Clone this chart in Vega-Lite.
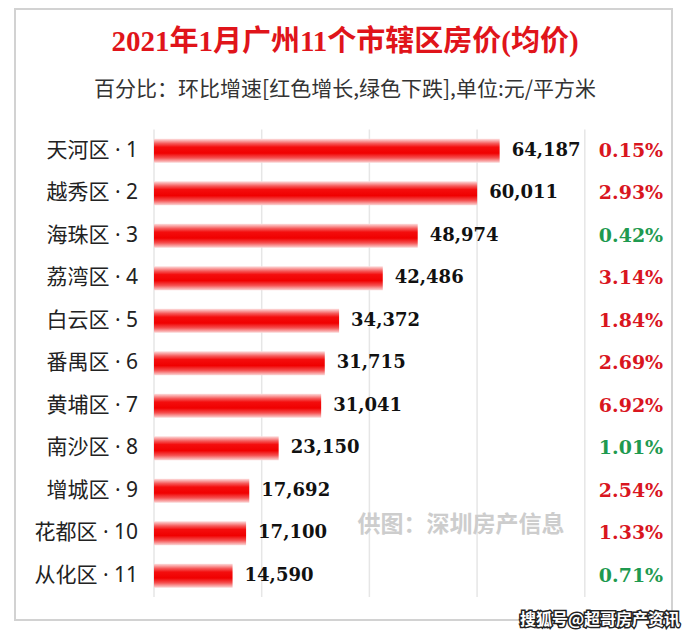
{
  "$schema": "https://vega.github.io/schema/vega-lite/v6.json",
  "width": 657,
  "height": 611,
  "autosize": {"type": "none"},
  "padding": {"left": 15, "top": 9, "right": 19, "bottom": 15},
  "background": "white",
  "config": {"view": {"stroke": "#d2d2d2", "strokeWidth": 2}},
  "datasets": {
    "districts": [
      {"rank": 1, "label": "天河区 · 1", "price": 64187, "pct": "0.15%", "dir": "up"},
      {"rank": 2, "label": "越秀区 · 2", "price": 60011, "pct": "2.93%", "dir": "up"},
      {"rank": 3, "label": "海珠区 · 3", "price": 48974, "pct": "0.42%", "dir": "down"},
      {"rank": 4, "label": "荔湾区 · 4", "price": 42486, "pct": "3.14%", "dir": "up"},
      {"rank": 5, "label": "白云区 · 5", "price": 34372, "pct": "1.84%", "dir": "up"},
      {"rank": 6, "label": "番禺区 · 6", "price": 31715, "pct": "2.69%", "dir": "up"},
      {"rank": 7, "label": "黄埔区 · 7", "price": 31041, "pct": "6.92%", "dir": "up"},
      {"rank": 8, "label": "南沙区 · 8", "price": 23150, "pct": "1.01%", "dir": "down"},
      {"rank": 9, "label": "增城区 · 9", "price": 17692, "pct": "2.54%", "dir": "up"},
      {"rank": 10, "label": "花都区 · 10", "price": 17100, "pct": "1.33%", "dir": "up"},
      {"rank": 11, "label": "从化区 · 11", "price": 14590, "pct": "0.71%", "dir": "down"}
    ],
    "grid": [{"g": 0}, {"g": 20000}, {"g": 40000}, {"g": 60000}, {"g": 80000}],
    "title": [{"t": "2021年1月广州11个市辖区房价(均价)"}],
    "subtitle": [{"t": "百分比：环比增速[红色增长,绿色下跌],单位:元/平方米"}],
    "watermark": [{"t": "供图：深圳房产信息"}],
    "source": [{"t": "搜狐号@超哥房产资讯"}]
  },
  "layer": [
    {
      "data": {"name": "grid"},
      "mark": {"type": "rule", "color": "#e6e6e6", "strokeWidth": 1.5},
      "encoding": {
        "x": {"field": "g", "type": "quantitative", "axis": null,
              "scale": {"domain": [-25812, 96194], "nice": false, "zero": false}},
        "y": {"datum": 0.5, "type": "quantitative", "axis": null,
              "scale": {"domain": [-2.2176, 11.926], "nice": false, "zero": false, "reverse": true}},
        "y2": {"datum": 11.5}
      }
    },
    {
      "data": {"name": "districts"},
      "mark": {
        "type": "bar", "orient": "horizontal", "size": 24,
        "color": {
          "gradient": "linear", "x1": 0, "y1": 0, "x2": 0, "y2": 1,
          "stops": [
            {"offset": 0, "color": "#fde2e2"},
            {"offset": 0.2, "color": "#f55a5a"},
            {"offset": 0.35, "color": "#f40d0d"},
            {"offset": 0.6, "color": "#f00000"},
            {"offset": 0.8, "color": "#f55050"},
            {"offset": 1, "color": "#fbd6d6"}
          ]
        }
      },
      "encoding": {
        "x": {"field": "price", "type": "quantitative", "axis": null},
        "x2": {"datum": 0},
        "y": {"field": "rank", "type": "quantitative", "axis": null}
      }
    },
    {
      "data": {"name": "districts"},
      "mark": {"type": "text", "align": "right", "baseline": "middle", "dx": -16,
               "font": "Noto Sans, Noto Sans CJK SC", "fontSize": 21, "color": "#222222"},
      "encoding": {
        "x": {"datum": 0, "type": "quantitative", "axis": null},
        "y": {"field": "rank", "type": "quantitative", "axis": null},
        "text": {"field": "label"}
      }
    },
    {
      "data": {"name": "districts"},
      "mark": {"type": "text", "align": "left", "baseline": "middle", "dx": 12,
               "font": "DejaVu Serif", "fontWeight": "bold", "fontSize": 18, "color": "#111111"},
      "encoding": {
        "x": {"field": "price", "type": "quantitative", "axis": null},
        "y": {"field": "rank", "type": "quantitative", "axis": null},
        "text": {"field": "price", "type": "quantitative", "format": ",d"}
      }
    },
    {
      "data": {"name": "districts"},
      "mark": {"type": "text", "align": "center", "baseline": "middle",
               "font": "DejaVu Serif", "fontWeight": "bold", "fontSize": 19},
      "encoding": {
        "x": {"datum": 88579, "type": "quantitative", "axis": null},
        "y": {"field": "rank", "type": "quantitative", "axis": null},
        "text": {"field": "pct"},
        "color": {"field": "dir", "type": "nominal", "legend": null,
                  "scale": {"domain": ["up", "down"], "range": ["#d9161f", "#1f9a50"]}}
      }
    },
    {
      "data": {"name": "title"},
      "mark": {"type": "text", "align": "center", "baseline": "middle",
               "font": "Liberation Serif, Noto Sans CJK SC", "fontWeight": "bold", "fontSize": 29, "color": "#e0141a"},
      "encoding": {
        "x": {"datum": 35469, "type": "quantitative", "axis": null},
        "y": {"datum": -1.55, "type": "quantitative", "axis": null},
        "text": {"field": "t"}
      }
    },
    {
      "data": {"name": "subtitle"},
      "mark": {"type": "text", "align": "center", "baseline": "middle",
               "font": "Noto Sans CJK SC", "fontSize": 21, "color": "#333333"},
      "encoding": {
        "x": {"datum": 35469, "type": "quantitative", "axis": null},
        "y": {"datum": -0.42, "type": "quantitative", "axis": null},
        "text": {"field": "t"}
      }
    },
    {
      "data": {"name": "watermark"},
      "mark": {"type": "text", "align": "center", "baseline": "middle",
               "font": "Noto Sans CJK SC", "fontWeight": "bold", "fontSize": 23, "color": "#cdcdcd"},
      "encoding": {
        "x": {"datum": 57010, "type": "quantitative", "axis": null},
        "y": {"datum": 9.8, "type": "quantitative", "axis": null},
        "text": {"field": "t"}
      }
    },
    {
      "data": {"name": "source"},
      "mark": {"type": "text", "align": "center", "baseline": "middle",
               "font": "Noto Sans CJK SC", "fontWeight": "bold", "fontSize": 16,
               "fill": "#222222", "stroke": "#222222", "strokeWidth": 3},
      "encoding": {
        "x": {"datum": 82823, "type": "quantitative", "axis": null},
        "y": {"datum": 12.05, "type": "quantitative", "axis": null},
        "text": {"field": "t"}
      }
    },
    {
      "data": {"name": "source"},
      "mark": {"type": "text", "align": "center", "baseline": "middle",
               "font": "Noto Sans CJK SC", "fontWeight": "bold", "fontSize": 16, "fill": "#ffffff"},
      "encoding": {
        "x": {"datum": 82823, "type": "quantitative", "axis": null},
        "y": {"datum": 12.05, "type": "quantitative", "axis": null},
        "text": {"field": "t"}
      }
    }
  ]
}
